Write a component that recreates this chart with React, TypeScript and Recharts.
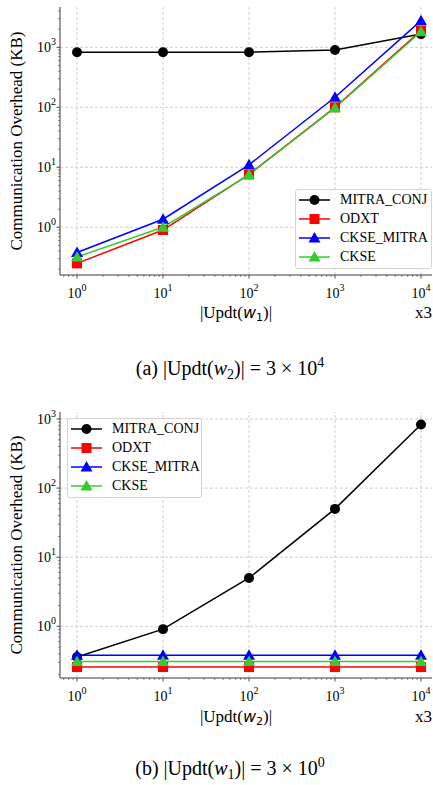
import React from 'react'
import { LineChart, Line, XAxis, YAxis, ReferenceLine, Legend } from 'recharts'

// x values: |Updt(w)|
const updates = [1, 10, 100, 1000, 10000]

// (a) |Updt(w2)| = 3 x 10^4
const mitraConjA = [830, 830, 830, 900, 1660]
const odxtA = [0.25, 0.9, 7.6, 100, 1900]
const ckseMitraA = [0.38, 1.36, 11, 147, 2780]
const ckseA = [0.32, 1.0, 7.5, 98, 1820]

// (b) |Updt(w1)| = 3 x 10^0
const mitraConjB = [0.36, 0.91, 5.0, 50, 830]
const odxtB = [0.257, 0.257, 0.257, 0.257, 0.257]
const ckseMitraB = [0.38, 0.38, 0.38, 0.38, 0.38]
const ckseB = [0.31, 0.31, 0.31, 0.31, 0.31]

const seriesNames = ['MITRA_CONJ', 'ODXT', 'CKSE_MITRA', 'CKSE']
const seriesColors = ['#000000', '#ff0000', '#0000ff', '#33cc33']
const seriesShapes = ['circle', 'square', 'triangle', 'triangle']

const xMajors = [1, 10, 100, 1000, 10000]
const yMajors = [1, 10, 100, 1000]
const tickExponents: Record<number, string> = { 1: '0', 10: '1', 100: '2', 1000: '3', 10000: '4' }

const SERIF = '"Liberation Serif", "Times New Roman", serif'
const AXIS = '#3a3a3a'
const GRID = '#c4c4c4'

const xDomain = [0.634, 13430]

// minor log ticks (2..9 per decade) inside a domain
const withMinors = (domain: number[]) => {
  const out: number[] = []
  for (let d = 0.01; d <= 100000; d *= 10) {
    for (let m = 1; m <= 9; m++) {
      const v = Number((d * m).toPrecision(6))
      if (v >= domain[0] && v <= domain[1]) out.push(v)
    }
  }
  return out
}

const buildRows = (a: number[], b: number[], c: number[], d: number[]) =>
  updates.map((x, i) => ({ x, MITRA_CONJ: a[i], ODXT: b[i], CKSE_MITRA: c[i], CKSE: d[i] }))

const dataA = buildRows(mitraConjA, odxtA, ckseMitraA, ckseA)
const dataB = buildRows(mitraConjB, odxtB, ckseMitraB, ckseB)

const Marker = ({ cx, cy, shape, color }: any) => {
  if (shape === 'circle') return <circle cx={cx} cy={cy} r={5} fill={color} />
  if (shape === 'square') return <rect x={cx - 5} y={cy - 5} width={10} height={10} fill={color} />
  return <polygon points={`${cx},${cy - 6} ${cx - 6},${cy + 4.5} ${cx + 6},${cy + 4.5}`} fill={color} />
}

const XTick = ({ x, y, payload }: any) => {
  const v = payload.value
  const major = xMajors.includes(v)
  return (
    <g>
      <line x1={x} x2={x} y1={y} y2={y + (major ? 3.5 : 2)} stroke={AXIS} strokeWidth={major ? 0.9 : 0.6} />
      {major && (
        <text x={x} y={y + 23} textAnchor="middle" fontSize={14} fontFamily={SERIF} fill="#000">
          10<tspan dy={-7} fontSize={10}>{tickExponents[v]}</tspan>
        </text>
      )}
    </g>
  )
}

const YTick = ({ x, y, payload }: any) => {
  const v = payload.value
  const major = yMajors.includes(v)
  return (
    <g>
      <line x1={x} x2={x - (major ? 3.5 : 2)} y1={y} y2={y} stroke={AXIS} strokeWidth={major ? 0.9 : 0.6} />
      {major && (
        <text x={x - 4} y={y + 5} textAnchor="end" fontSize={14} fontFamily={SERIF} fill="#000">
          10<tspan dy={-7} fontSize={10}>{tickExponents[v]}</tspan>
        </text>
      )}
    </g>
  )
}

const LegendBox = () => (
  <div
    style={{
      border: '1px solid #d4d4d4',
      borderRadius: 3,
      background: 'rgba(255,255,255,0.85)',
      padding: '1px 0 2px 0',
      fontFamily: SERIF,
      fontSize: 14,
      color: '#000',
    }}
  >
    {seriesNames.map((n, i) => (
      <div key={n} style={{ display: 'flex', alignItems: 'center', height: 18.8 }}>
        <svg width={38} height={14} style={{ display: 'block' }}>
          <line x1={3} x2={34} y1={7} y2={7} stroke={seriesColors[i]} strokeWidth={1.5} />
          <Marker cx={18.5} cy={7} shape={seriesShapes[i]} color={seriesColors[i]} />
        </svg>
        <span style={{ marginLeft: 6, lineHeight: 1, fontFamily: SERIF }}>{n}</span>
      </div>
    ))}
  </div>
)

const YLabel = ({ viewBox }: any) => {
  const cx = viewBox.x + 16
  const cy = viewBox.y + viewBox.height / 2
  return (
    <text
      x={cx}
      y={cy}
      transform={`rotate(-90, ${cx}, ${cy})`}
      textAnchor="middle"
      dominantBaseline="central"
      fontSize={17}
      fontFamily={SERIF}
      fill="#000"
    >
      Communication Overhead (KB)
    </text>
  )
}

const Panel = ({ data, yDomain, legendPos, height }: any) => (
  <LineChart width={433} height={height} data={data} margin={{ top: 7, right: 1, bottom: 0, left: 0 }}>
    <XAxis
      dataKey="x"
      type="number"
      scale="log"
      domain={xDomain}
      allowDataOverflow
      ticks={withMinors(xDomain)}
      interval={0}
      tick={<XTick />}
      tickLine={false}
      tickSize={0}
      tickMargin={0}
      height={25}
      axisLine={{ stroke: AXIS, strokeWidth: 1 }}
    />
    <XAxis
      xAxisId="top"
      orientation="top"
      type="number"
      scale="log"
      domain={xDomain}
      allowDataOverflow
      height={0}
      tick={false}
      tickLine={false}
      axisLine={{ stroke: AXIS, strokeWidth: 1 }}
    />
    <YAxis
      type="number"
      scale="log"
      domain={yDomain}
      allowDataOverflow
      ticks={withMinors(yDomain)}
      interval={0}
      tick={<YTick />}
      tickLine={false}
      tickSize={0}
      tickMargin={0}
      width={60}
      axisLine={{ stroke: AXIS, strokeWidth: 1 }}
      label={YLabel}
    />
    <YAxis
      yAxisId="right"
      orientation="right"
      type="number"
      scale="log"
      domain={yDomain}
      allowDataOverflow
      width={0}
      tick={false}
      tickLine={false}
      axisLine={{ stroke: AXIS, strokeWidth: 1 }}
    />
    {xMajors.map((v) => (
      <ReferenceLine key={`gx${v}`} x={v} stroke={GRID} strokeDasharray="3 2" strokeWidth={0.8} />
    ))}
    {yMajors.map((v) => (
      <ReferenceLine key={`gy${v}`} y={v} stroke={GRID} strokeDasharray="3 2" strokeWidth={0.8} />
    ))}
    {seriesNames.map((n, i) => (
      <Line
        key={n}
        dataKey={n}
        name={n}
        stroke={seriesColors[i]}
        strokeWidth={1.5}
        isAnimationActive={false}
        activeDot={false}
        dot={(p: any) => <Marker key={`${n}-${p.index}`} cx={p.cx} cy={p.cy} shape={seriesShapes[i]} color={seriesColors[i]} />}
      />
    ))}
    <Legend
      layout="vertical"
      align="center"
      verticalAlign="middle"
      content={() => <LegendBox />}
      wrapperStyle={{ left: legendPos.left, top: legendPos.top, width: legendPos.width }}
    />
  </LineChart>
)

const XTitle = ({ top, sub }: any) => (
  <>
    <div
      style={{
        position: 'absolute',
        left: 136,
        top: top - 11,
        width: 200,
        textAlign: 'center',
        fontFamily: SERIF,
        fontSize: 17,
        lineHeight: '22px',
        whiteSpace: 'nowrap',
      }}
    >
      |Updt(
      <span style={{ fontFamily: '"DejaVu Sans", sans-serif', fontStyle: 'italic', fontSize: 16 }}>w</span>
      <span style={{ fontFamily: '"DejaVu Sans", sans-serif', fontSize: 11, position: 'relative', top: 3 }}>{sub}</span>
      )|
    </div>
    <div
      style={{
        position: 'absolute',
        right: 1,
        top: top - 11,
        fontFamily: SERIF,
        fontSize: 17,
        lineHeight: '22px',
      }}
    >
      x3
    </div>
  </>
)

const Caption = ({ top, tag, sub, exp }: any) => (
  <div
    style={{
      position: 'absolute',
      left: 80,
      top: top - 13,
      width: 300,
      textAlign: 'center',
      fontFamily: SERIF,
      fontSize: 20,
      lineHeight: '26px',
      whiteSpace: 'nowrap',
    }}
  >
    ({tag}) |Updt(<i>w</i>
    <span style={{ fontSize: 14, position: 'relative', top: 4 }}>{sub}</span>)| = 3 × 10
    <span style={{ fontSize: 14, position: 'relative', top: -8 }}>{exp}</span>
  </div>
)

export default function App() {
  return (
    <div style={{ position: 'absolute', left: 0, top: 0, width: 433, height: 785, background: '#fff' }}>
      <div style={{ position: 'absolute', left: 0, top: 0 }}>
        <Panel data={dataA} yDomain={[0.16, 4700]} legendPos={{ left: 295, top: 189, width: 137 }} height={300} />
      </div>
      <XTitle top={313} sub="1" />
      <Caption top={368} tag="a" sub="2" exp="4" />

      <div style={{ position: 'absolute', left: 0, top: 405 }}>
        <Panel data={dataB} yDomain={[0.1786, 1262]} legendPos={{ left: 67, top: 13, width: 135 }} height={298} />
      </div>
      <XTitle top={717} sub="2" />
      <Caption top={768} tag="b" sub="1" exp="0" />
    </div>
  )
}
